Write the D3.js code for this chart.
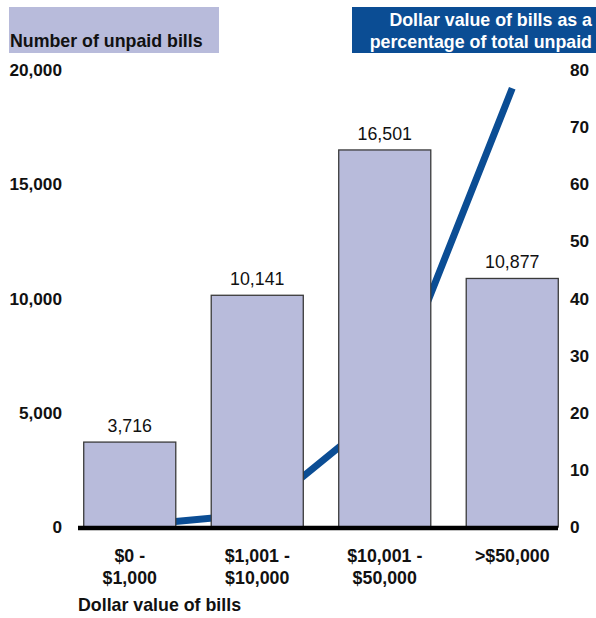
<!DOCTYPE html>
<html>
<head>
<meta charset="utf-8">
<script src="https://cdn.jsdelivr.net/npm/d3@7"></script>
<style>
  html, body { margin: 0; padding: 0; background: #fff; }
  svg { display: block; font-family: "Liberation Sans", Arial, Helvetica, sans-serif; }
</style>
</head>
<body>
<svg id="chart" width="596" height="618"></svg>
<script>
// ---- data ----
const categories = [["$0 -", "$1,000"], ["$1,001 -", "$10,000"], ["$10,001 -", "$50,000"], [">$50,000"]];
const categoryKeys = ["$0 - $1,000", "$1,001 - $10,000", "$10,001 - $50,000", ">$50,000"];
const billCounts = [3716, 10141, 16501, 10877];
const dollarShare = [0.2, 2.3, 20.5, 76.8];
const leftTicks = [0, 5000, 10000, 15000, 20000];
const rightTicks = [0, 10, 20, 30, 40, 50, 60, 70, 80];
const leftTitle = "Number of unpaid bills";
const rightTitle = ["Dollar value of bills as a", "percentage of total unpaid"];
const xTitle = "Dollar value of bills";

// ---- colours ----
const barFill = "#b8bbdb";
const lineColor = "#0b4d94";

const svg = d3.select("#chart");

const x = d3.scaleBand().domain(categoryKeys).range([66, 576]).paddingInner(0.278).paddingOuter(0.139);
const yL = d3.scaleLinear().domain([0, 20000]).range([527, 70]);
const yR = d3.scaleLinear().domain([0, 80]).range([527, 70]);

// header boxes
svg.append("rect").attr("x", 9).attr("y", 7).attr("width", 210).attr("height", 46).attr("fill", barFill);
svg.append("text").attr("x", 10).attr("y", 47).attr("font-size", 17.8).attr("font-weight", "bold")
  .attr("fill", "#111").text(leftTitle);

svg.append("rect").attr("x", 352).attr("y", 7).attr("width", 244).attr("height", 46).attr("fill", lineColor);
svg.selectAll("text.rt").data(rightTitle).join("text").attr("class", "rt")
  .attr("x", 592).attr("y", (d, i) => 26 + i * 21.5).attr("text-anchor", "end")
  .attr("font-size", 17.8).attr("font-weight", "bold").attr("fill", "#fff").text(d => d);

// left axis
const leftAxis = d3.axisLeft(yL).tickValues(leftTicks).tickSize(0).tickPadding(0).tickFormat(d3.format(","));
const gL = svg.append("g").attr("transform", "translate(62,0)").call(leftAxis);
gL.select(".domain").remove();
gL.selectAll("text").attr("font-size", 17.2).attr("font-weight", "bold").attr("fill", "#111")
  .attr("font-family", "Liberation Sans, Arial, sans-serif");

// right axis
const rightAxis = d3.axisRight(yR).tickValues(rightTicks).tickSize(0).tickPadding(0);
const gR = svg.append("g").attr("transform", "translate(570,0)").call(rightAxis);
gR.select(".domain").remove();
gR.selectAll("text").attr("font-size", 17.2).attr("font-weight", "bold").attr("fill", "#111")
  .attr("font-family", "Liberation Sans, Arial, sans-serif");

// line (behind bars)
const line = d3.line().x((d, i) => x(categoryKeys[i]) + x.bandwidth() / 2).y(d => yR(d));
svg.append("path").datum(dollarShare).attr("d", line).attr("fill", "none")
  .attr("stroke", lineColor).attr("stroke-width", 7).attr("stroke-linejoin", "miter");

// bars
svg.selectAll("rect.bar").data(billCounts).join("rect").attr("class", "bar")
  .attr("x", (d, i) => x(categoryKeys[i]))
  .attr("y", d => yL(d))
  .attr("width", x.bandwidth())
  .attr("height", d => yL(0) - yL(d))
  .attr("fill", barFill).attr("stroke", "#3a3a3a").attr("stroke-width", 1.3);

// value labels
svg.selectAll("text.val").data(billCounts).join("text").attr("class", "val")
  .attr("x", (d, i) => x(categoryKeys[i]) + x.bandwidth() / 2)
  .attr("y", d => yL(d) - 10)
  .attr("text-anchor", "middle").attr("font-size", 17.8).attr("fill", "#111")
  .text(d => d3.format(",")(d));

// baseline
svg.append("line").attr("x1", 78).attr("x2", 558).attr("y1", yL(0) + 1).attr("y2", yL(0) + 1)
  .attr("stroke", "#000").attr("stroke-width", 4.5);

// category labels
categories.forEach((lines, i) => {
  const t = svg.append("text").attr("text-anchor", "middle").attr("font-size", 17.8).attr("font-weight", "bold")
    .attr("fill", "#111");
  lines.forEach((l, j) => {
    t.append("tspan").attr("x", x(categoryKeys[i]) + x.bandwidth() / 2).attr("y", 562 + j * 21.5).text(l);
  });
});

// x title
svg.append("text").attr("x", 78).attr("y", 611).attr("font-size", 17.8).attr("font-weight", "bold")
  .attr("fill", "#111").text(xTitle);
</script>
</body>
</html>
